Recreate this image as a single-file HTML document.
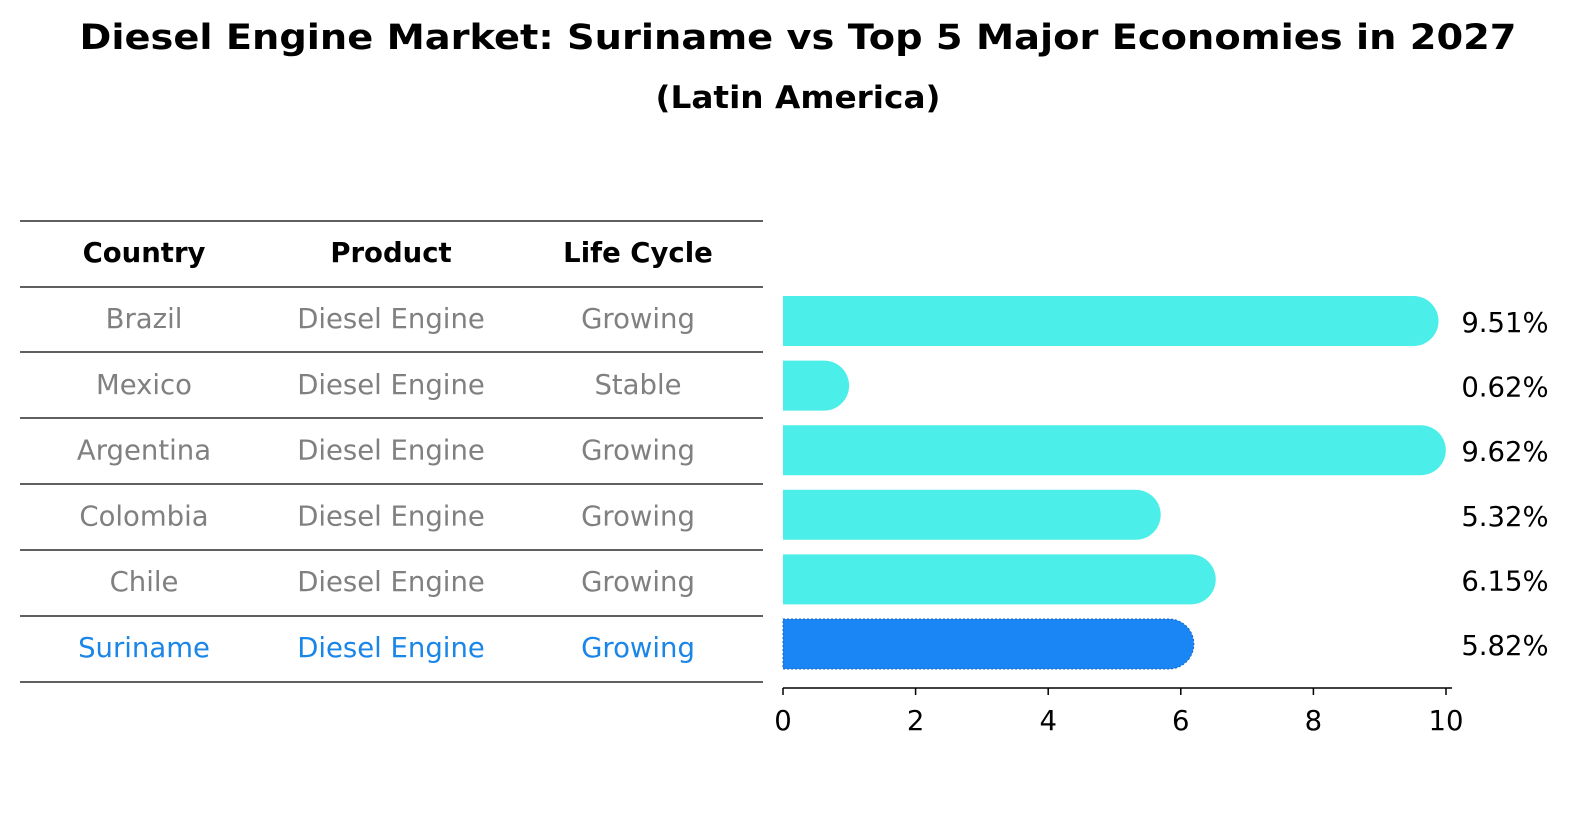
<!DOCTYPE html>
<html><head><meta charset="utf-8"><style>
body{margin:0;background:#fff;font-family:"Liberation Sans","DejaVu Sans",sans-serif}
svg text{font-family:"DejaVu Sans","Liberation Sans",sans-serif}
</style></head><body>
<svg id="c" width="1586" height="823" viewBox="0 0 1586 823" xmlns="http://www.w3.org/2000/svg">
<rect width="1586" height="823" fill="#fff"/>
<text x="798" y="49" text-anchor="middle" font-size="35" font-weight="bold" textLength="1437" lengthAdjust="spacingAndGlyphs">Diesel Engine Market: Suriname vs Top 5 Major Economies in 2027</text>
<text x="798" y="108" text-anchor="middle" font-size="31" font-weight="bold" textLength="285" lengthAdjust="spacingAndGlyphs">(Latin America)</text>
<g id="table"></g>
<g id="bars"></g>
<g id="axis"></g>
</svg>
<script>
const countries=["Brazil","Mexico","Argentina","Colombia","Chile","Suriname"];
const products=["Diesel Engine","Diesel Engine","Diesel Engine","Diesel Engine","Diesel Engine","Diesel Engine"];
const lifecycle=["Growing","Stable","Growing","Growing","Growing","Growing"];
const values=[9.51,0.62,9.62,5.32,6.15,5.82];
const labels=["9.51%","0.62%","9.62%","5.32%","6.15%","5.82%"];
const ticks=[0,2,4,6,8,10];
const NS="http://www.w3.org/2000/svg";
function mk(t,a,p,txt){const e=document.createElementNS(NS,t);for(const k in a)e.setAttribute(k,a[k]);if(txt!==undefined)e.textContent=txt;p.appendChild(e);return e;}
const x=v=>783+v*66.3;
const rowY=i=>321+i*64.6;
const FS=27.5;
const tb=document.getElementById('table');
const lines=[221,287,352,418,484,550,616,682];
lines.forEach((y,i)=>{const l=mk('line',{x1:20,x2:763,y1:y,y2:y,stroke:'#000','stroke-width':1.2},tb);

});
const cx=[144,391,638];
["Country","Product","Life Cycle"].forEach((h,j)=>{const t=mk('text',{x:cx[j],y:262,'text-anchor':'middle','font-size':FS,'font-weight':'bold'},tb,h);

});
countries.forEach((c,i)=>{const y=328+i*65.8;const col=i===5?'#1a86e8':'#808080';
[c,products[i],lifecycle[i]].forEach((v,j)=>{const t=mk('text',{x:cx[j],y:y,'text-anchor':'middle','font-size':FS,fill:col},tb,v);

});});
const bg=document.getElementById('bars');
values.forEach((v,i)=>{const cy=rowY(i),t=cy-25,b=cy+25,xe=x(v);
const p=mk('path',{d:`M783,${t} H${xe} A25,25 0 0 1 ${xe},${b} H783 Z`,fill:i===5?'#1a86f5':'#4beee8'},bg);
if(i===5){p.setAttribute('stroke','#1565c0');p.setAttribute('stroke-dasharray','2,2');p.setAttribute('stroke-width','1');}


const tx=mk('text',{x:1505,y:cy+11,'text-anchor':'middle','font-size':FS},bg,labels[i]);

});
const ax=document.getElementById('axis');
mk('line',{x1:783,x2:1452,y1:688,y2:688,stroke:'#000','stroke-width':1.5},ax);
ticks.forEach(v=>{mk('line',{x1:x(v),x2:x(v),y1:688,y2:695,stroke:'#000','stroke-width':1.5},ax);
const t=mk('text',{x:x(v),y:730,'text-anchor':'middle','font-size':FS},ax,String(v));

});
</script>
</body></html>
